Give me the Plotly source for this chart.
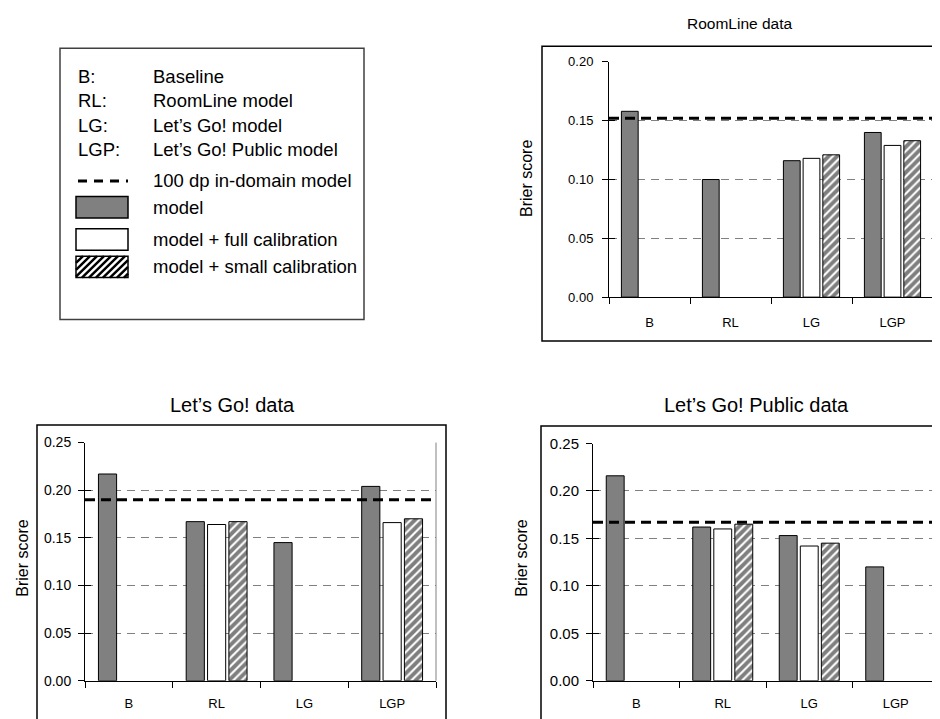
import plotly.graph_objects as go

# The page body keeps the browser's default 8px margin, so the figure is
# placed 8px in from the top-left corner and sized to fill the rest.
OFF = 8
W, H = 940 - OFF, 719 - OFF

# ---------------- data ----------------
categories = ["B", "RL", "LG", "LGP"]

roomline_model = [0.158, 0.100, 0.116, 0.140]
roomline_full = [None, None, 0.118, 0.129]
roomline_small = [None, None, 0.121, 0.133]
roomline_indomain = 0.152

letsgo_model = [0.217, 0.167, 0.145, 0.204]
letsgo_full = [None, 0.164, None, 0.166]
letsgo_small = [None, 0.167, None, 0.170]
letsgo_indomain = 0.190

lgp_model = [0.216, 0.162, 0.153, 0.120]
lgp_full = [None, 0.160, 0.142, None]
lgp_small = [None, 0.165, 0.145, None]
lgp_indomain = 0.167

panel_titles = ["RoomLine data", "Let\u2019s Go! data", "Let\u2019s Go! Public data"]
panel_ymax = [0.20, 0.25, 0.25]
y_title = "Brier score"

legend_abbrev = ["B:", "RL:", "LG:", "LGP:"]
legend_names = ["Baseline", "RoomLine model", "Let\u2019s Go! model", "Let\u2019s Go! Public model"]
legend_series = ["100 dp in-domain model", "model", "model + full calibration", "model + small calibration"]

# ---------------- helpers (page pixel -> paper) ----------------
def px(x):
    return (x - OFF) / W

def py(y):
    return 1 - (y - OFF) / H

FONT = "Liberation Sans, Arial, Helvetica, sans-serif"
NARROW = "Liberation Sans Narrow, Arial Narrow, Liberation Sans, Arial, sans-serif"
GRAY = "#808080"

fig = go.Figure()

panels = [
    dict(model=roomline_model, full=roomline_full, small=roomline_small, ref=roomline_indomain,
         ax="x", ay="y", xdom=(609, 933), ydom=(295, 54), box=(542, 38, 980, 340),
         title=(740, 15), tsize=15.5, ytitle=(526, 174), tickfont=FONT, ticksize=13,
         standoff=6, xsize=13, xstand=13),
    dict(model=letsgo_model, full=letsgo_full, small=letsgo_small, ref=letsgo_indomain,
         ax="x2", ay="y2", xdom=(85, 436), ydom=(688, 444), box=(37, 426, 446, 760),
         title=(232, 405), tsize=20, ytitle=(23, 563), tickfont=NARROW, ticksize=14,
         standoff=4, xsize=13, xstand=11),
    dict(model=lgp_model, full=lgp_full, small=lgp_small, ref=lgp_indomain,
         ax="x3", ay="y3", xdom=(593, 939), ydom=(688, 445), box=(541, 427, 980, 760),
         title=(756, 405), tsize=20, ytitle=(522, 563), tickfont=FONT, ticksize=15,
         standoff=4, xsize=13, xstand=11),
]

shapes = []
annotations = []

for i, p in enumerate(panels):
    n = "" if i == 0 else str(i + 1)
    common = dict(x=categories, xaxis=p["ax"], yaxis=p["ay"], showlegend=False)
    fig.add_trace(go.Bar(y=p["model"], name="model",
                         marker=dict(color=GRAY, line=dict(color="black", width=1)), **common))
    fig.add_trace(go.Bar(y=p["full"], name="model + full calibration",
                         marker=dict(color="white", line=dict(color="black", width=1)), **common))
    fig.add_trace(go.Bar(y=p["small"], name="model + small calibration",
                         marker=dict(color="white", line=dict(color="black", width=1),
                                     pattern=dict(shape="/", fgcolor="black", bgcolor="white",
                                                  size=6, solidity=0.65)), **common))

    ydomain = [py(p["ydom"][0]), py(p["ydom"][1])]
    xa = dict(domain=[px(p["xdom"][0]), px(p["xdom"][1])], anchor=p["ay"],
              type="category", tickson="boundaries", ticks="outside", ticklen=6,
              tickcolor="black", showline=True, linecolor="black", linewidth=1,
              showgrid=False, zeroline=False, ticklabelstandoff=p["xstand"],
              tickfont=dict(family=p["tickfont"], size=p["xsize"], color="black"))
    ya = dict(domain=ydomain, anchor=p["ax"],
              range=[0, panel_ymax[i]], dtick=0.05, tickformat=".2f",
              ticks="outside", ticklen=6, tickcolor="black",
              showline=True, linecolor="black", linewidth=1, zeroline=False,
              showgrid=True, gridcolor=GRAY, gridwidth=1, griddash="8px,6px",
              ticklabelstandoff=p["standoff"],
              tickfont=dict(family=p["tickfont"], size=p["ticksize"], color="black"))
    fig.layout["xaxis" + n] = xa
    fig.layout["yaxis" + n] = ya
    # companion axis giving the inner half of the crossing tick marks
    fig.layout["yaxis" + str(4 + i)] = dict(
        domain=ydomain, anchor=p["ax"], overlaying=p["ay"], side="left",
        range=[0, panel_ymax[i]], dtick=0.05, ticks="inside", ticklen=6,
        tickcolor="black", showticklabels=False, showgrid=False, showline=False,
        zeroline=False)

    # 100 dp in-domain reference line
    shapes.append(dict(type="line", xref=p["ax"] + " domain", yref=p["ay"],
                       x0=0, x1=1, y0=p["ref"], y1=p["ref"],
                       line=dict(color="black", width=3, dash="10px,6px"), layer="above"))
    # right border of plot area
    shapes.append(dict(type="line", xref=p["ax"] + " domain", yref=p["ay"] + " domain",
                       x0=1, x1=1, y0=0, y1=1, line=dict(color=GRAY, width=1)))
    # outer chart frame
    bx0, by0, bx1, by1 = p["box"]
    shapes.append(dict(type="rect", xref="paper", yref="paper",
                       x0=px(bx0), x1=px(bx1), y0=py(by1), y1=py(by0),
                       line=dict(color="black", width=1.5), layer="below"))
    annotations.append(dict(text=panel_titles[i], xref="paper", yref="paper",
                            x=px(p["title"][0]), y=py(p["title"][1]), showarrow=False,
                            xanchor="center", yanchor="middle",
                            font=dict(family=FONT, size=p["tsize"], color="black")))
    annotations.append(dict(text=y_title, xref="paper", yref="paper", textangle=-90,
                            x=px(p["ytitle"][0]), y=py(p["ytitle"][1]), showarrow=False,
                            xanchor="center", yanchor="middle",
                            font=dict(family=FONT, size=16, color="black")))

# empty helper traces so the companion tick axes are drawn
for i, p in enumerate(panels):
    fig.add_trace(go.Scatter(x=[categories[0]], y=[None], xaxis=p["ax"], yaxis="y" + str(4 + i),
                             mode="markers", showlegend=False, hoverinfo="skip"))

# ---------------- custom legend box ----------------
LEG = dict(x0=60, y0=40, x1=364, y1=318)
shapes.append(dict(type="rect", xref="paper", yref="paper",
                   x0=px(LEG["x0"]), x1=px(LEG["x1"]), y0=py(LEG["y1"]), y1=py(LEG["y0"]),
                   line=dict(color="#404040", width=1.5)))
row_y = [69, 94, 119, 144, 176, 203, 236, 264]
LFONT = dict(family=FONT, size=18.5, color="black")
for k in range(4):
    annotations.append(dict(text=legend_abbrev[k], xref="paper", yref="paper",
                            x=px(76), y=py(row_y[k]), xanchor="left", yanchor="middle",
                            showarrow=False, font=LFONT))
    annotations.append(dict(text=legend_names[k], xref="paper", yref="paper",
                            x=px(151), y=py(row_y[k]), xanchor="left", yanchor="middle",
                            showarrow=False, font=LFONT))
for k in range(4):
    annotations.append(dict(text=legend_series[k], xref="paper", yref="paper",
                            x=px(151), y=py(row_y[4 + k]), xanchor="left", yanchor="middle",
                            showarrow=False, font=LFONT))

# swatches
shapes.append(dict(type="line", xref="paper", yref="paper",
                   x0=px(78), x1=px(128), y0=py(row_y[4]), y1=py(row_y[4]),
                   line=dict(color="black", width=3, dash="9px,7px")))
sw_x0, sw_x1 = 76, 128
sw_h = 22
shapes.append(dict(type="rect", xref="paper", yref="paper",
                   x0=px(sw_x0), x1=px(sw_x1), y0=py(row_y[5] + sw_h / 2), y1=py(row_y[5] - sw_h / 2),
                   fillcolor=GRAY, line=dict(color="black", width=1.5)))
shapes.append(dict(type="rect", xref="paper", yref="paper",
                   x0=px(sw_x0), x1=px(sw_x1), y0=py(row_y[6] + sw_h / 2), y1=py(row_y[6] - sw_h / 2),
                   fillcolor="white", line=dict(color="black", width=1.5)))
# hatched swatch
hy0, hy1 = row_y[7] - sw_h / 2, row_y[7] + sw_h / 2
hh = hy1 - hy0
segs = []
c = sw_x0 - hh
while c < sw_x1:
    tmin = max(0, sw_x0 - c)
    tmax = min(hh, sw_x1 - c)
    if tmin < tmax:
        segs.append("M{:.5f},{:.5f} L{:.5f},{:.5f}".format(
            px(c + tmin), py(hy1 - tmin), px(c + tmax), py(hy1 - tmax)))
    c += 7
shapes.append(dict(type="path", xref="paper", yref="paper", path=" ".join(segs),
                   line=dict(color="black", width=2.5)))
shapes.append(dict(type="rect", xref="paper", yref="paper",
                   x0=px(sw_x0), x1=px(sw_x1), y0=py(hy1), y1=py(hy0),
                   line=dict(color="black", width=1.5)))

fig.update_layout(
    width=W, height=H, autosize=False,
    margin=dict(l=0, r=0, t=0, b=0),
    paper_bgcolor="white", plot_bgcolor="white",
    barmode="group", bargap=0.27, bargroupgap=0.15,
    font=dict(family=FONT, color="black"),
    shapes=shapes, annotations=annotations,
)

fig.write_html("out.html")
